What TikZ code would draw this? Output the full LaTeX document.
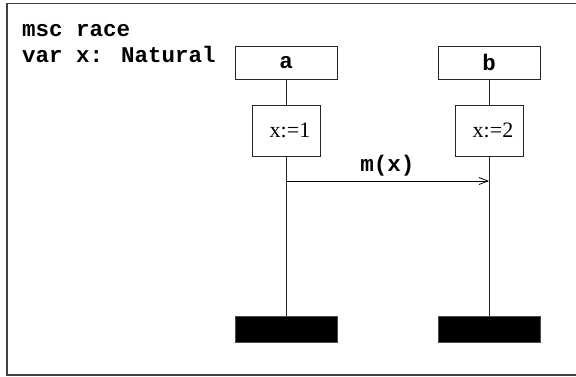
\documentclass[tikz,border=0pt]{standalone}
\usepackage{fontspec}
\setmainfont{Liberation Serif}
\newfontfamily\mscmono{Liberation Mono}
\usetikzlibrary{arrows.meta}
\begin{document}
\begin{tikzpicture}[x=1pt,y=-1pt,
  monofont/.style={font=\mscmono\fontsize{22.5}{24}\selectfont\bfseries},
  instbox/.style={draw=black!85,line width=0.9pt,minimum width=102pt,minimum height=33pt,
    inner sep=0pt,monofont},
  actbox/.style={draw=black!85,line width=0.9pt,minimum width=68pt,minimum height=51pt,
    inner sep=0pt,font=\fontsize{22}{24}\selectfont},
  endbar/.style={fill=black,draw=black!70,line width=0.6pt,minimum width=102pt,minimum height=26pt,inner sep=0pt},
  life/.style={draw=black!85,line width=0.9pt},
  msg/.style={draw=black,line width=0.9pt,-{Straight Barb[length=9pt,width=7pt,line width=0.8pt]}},
  heading/.style={anchor=base west,inner sep=0pt,monofont}]
  \useasboundingbox (0,0) rectangle (576,376);
  % frame (its right edge lies past the page)
  \draw[draw=black!75,line width=1.4pt] (580,3.5) -- (7,3.5) -- (7,375) -- (580,375);
  % heading
  \node[heading] (title) at (22,36) {msc race};
  \node[heading] (decl) at (22,62) {var x: Natural};
  % instance heads
  \node[instbox] (a) at (286,62.5) {a};
  \node[instbox] (b) at (489,62.5) {b};
  % actions
  \node[actbox] (acta) at (286,130.5) {\hspace*{8pt}x:=1};
  \node[actbox] (actb) at (489,130.5) {\hspace*{8pt}x:=2};
  % instance ends
  \node[endbar] (enda) at (286,329) {};
  \node[endbar] (endb) at (489,329) {};
  % lifelines
  \draw[life] (a.south) -- (acta.north);
  \draw[life] (b.south) -- (actb.north);
  \draw[life] (acta.south) -- (enda.north);
  \draw[life] (actb.south) -- (endb.north);
  % message
  \coordinate (ms) at (286,181);
  \coordinate (mt) at (489,181);
  \draw[msg] (ms) -- node[above=4pt,inner sep=0pt,monofont] (mlab) {m(x)} (mt);
\end{tikzpicture}
\end{document}
